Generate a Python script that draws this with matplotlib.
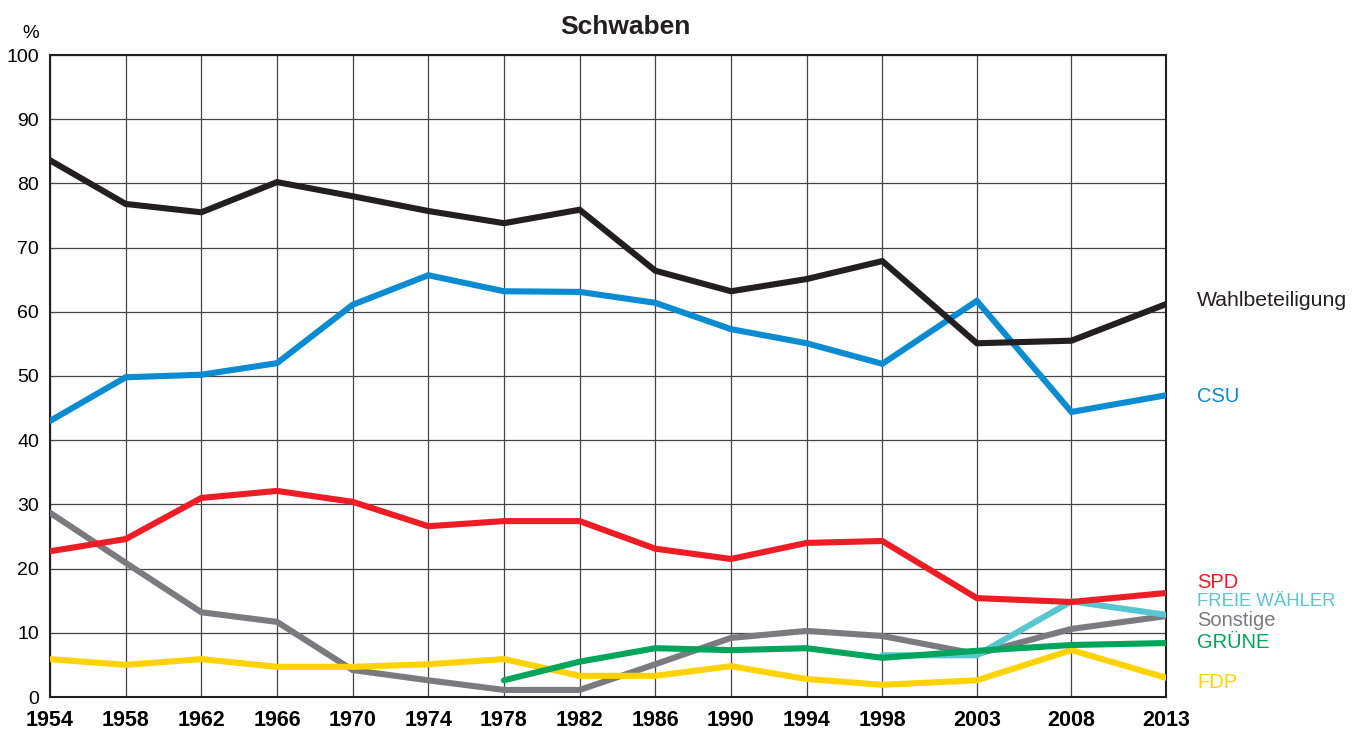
import matplotlib.pyplot as plt

years = [1954, 1958, 1962, 1966, 1970, 1974, 1978, 1982, 1986, 1990, 1994, 1998, 2003, 2008, 2013]

wahlbeteiligung = [83.6, 76.8, 75.5, 80.2, 78.0, 75.7, 73.8, 75.9, 66.4, 63.2, 65.1, 67.9, 55.1, 55.5, 61.2]
csu = [43.0, 49.8, 50.2, 52.0, 61.1, 65.7, 63.2, 63.1, 61.4, 57.3, 55.1, 51.9, 61.7, 44.4, 47.0]
spd = [22.7, 24.6, 31.0, 32.1, 30.4, 26.6, 27.4, 27.4, 23.1, 21.5, 24.0, 24.3, 15.4, 14.8, 16.2]
sonstige = [28.7, 20.9, 13.2, 11.7, 4.2, 2.6, 1.1, 1.1, 5.1, 9.2, 10.3, 9.5, 6.7, 10.6, 12.6]
fdp = [5.9, 5.0, 5.9, 4.7, 4.7, 5.1, 5.9, 3.3, 3.3, 4.8, 2.8, 1.9, 2.6, 7.3, 3.0]
gruene_years = [1978, 1982, 1986, 1990, 1994, 1998, 2003, 2008, 2013]
gruene = [2.6, 5.5, 7.6, 7.3, 7.6, 6.1, 7.2, 8.1, 8.4]
fw_years = [1998, 2003, 2008, 2013]
freie_waehler = [6.5, 6.5, 14.9, 12.8]

yticks = list(range(0, 101, 10))

fig = plt.figure(figsize=(13.54, 7.33), dpi=100)
ax = fig.add_axes([50/1354, 1-697/733, (1166-50)/1354, (697-55)/733])

lw = 4.4
# bottom to top: data, colour, label, label y (px), label size
series = [
    (years, sonstige, '#7b7b7f', 'Sonstige', 620, 14.5),
    (fw_years, freie_waehler, '#58c6d1', 'FREIE WÄHLER', 601, 13.3),
    (years, fdp, '#ffd200', 'FDP', 683, 14.5),
    (gruene_years, gruene, '#00a55c', 'GRÜNE', 643, 14.5),
    (years, spd, '#ee1c25', 'SPD', 582, 14.5),
    (years, csu, '#0a8bd2', 'CSU', 397, 14.5),
    (years, wahlbeteiligung, '#231f20', 'Wahlbeteiligung', 301, 15.3),
]
for xs, ys, col, name, ly, fs in series:
    ax.plot(xs, ys, color=col, lw=lw, solid_capstyle='round', solid_joinstyle='miter', zorder=3)
    fig.text(1197/1354, 1-ly/733, name, color=col, fontsize=fs, family='Liberation Sans',
             ha='left', va='center')

ax.set_xlim(1954, 2013)
ax.set_ylim(0, 100)
ax.set_xticks(years)
ax.set_xticklabels([str(y) for y in years], fontsize=15.5, fontweight='bold', family='Liberation Sans')
ax.set_yticks(yticks)
ax.set_yticklabels([str(v) for v in yticks], fontsize=14, family='Liberation Sans')
ax.tick_params(length=0, pad=8)
ax.tick_params(axis='x', pad=9)
ax.grid(True, color='#444444', lw=0.9, zorder=1)
for s in ax.spines.values():
    s.set_color('#231f20')
    s.set_linewidth(1.5)

fig.text(625/1354, 1-27/733, 'Schwaben', fontsize=19, fontweight='bold', family='Liberation Sans',
         ha='center', va='center', color='#231f20')
fig.text(31/1354, 1-33/733, '%', fontsize=13.5, family='Liberation Sans', ha='center', va='center')

fig.savefig('out.png', dpi=100)
